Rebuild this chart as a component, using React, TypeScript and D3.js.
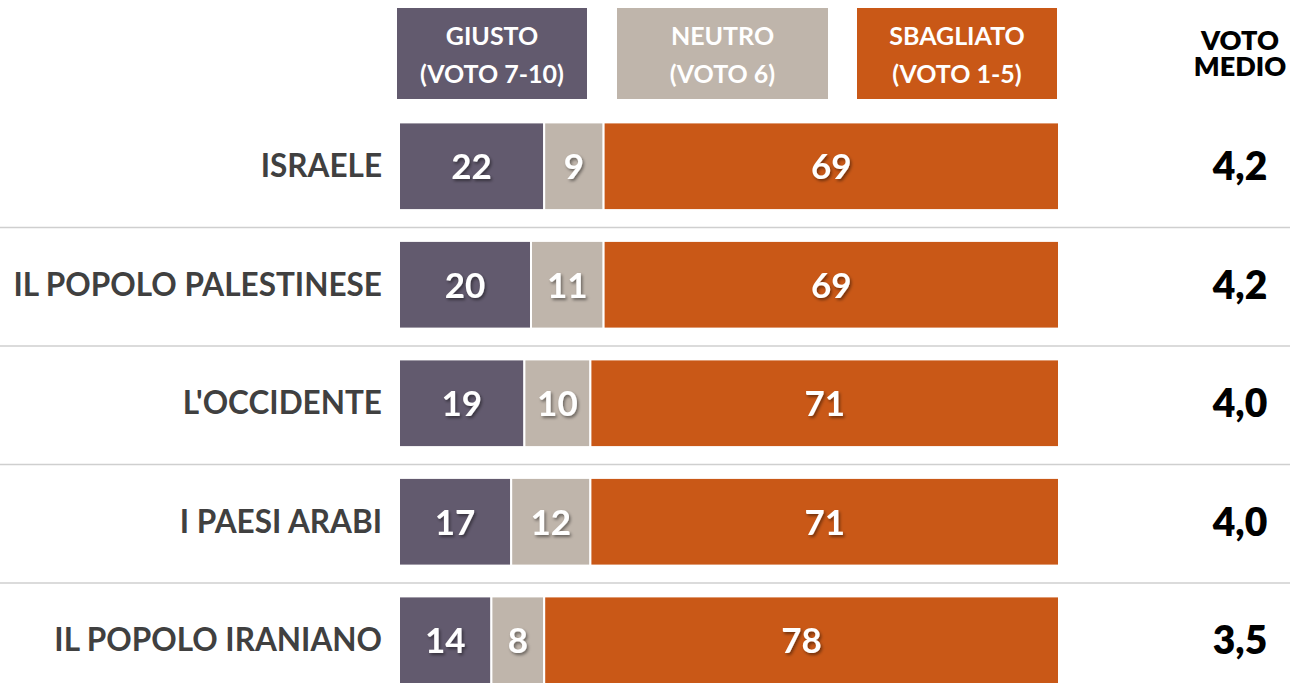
import React from "react";
import * as d3 from "d3";

const categories = ["ISRAELE", "IL POPOLO PALESTINESE", "L'OCCIDENTE", "I PAESI ARABI", "IL POPOLO IRANIANO"];
const giusto = [22, 20, 19, 17, 14];
const neutro = [9, 11, 10, 12, 8];
const sbagliato = [69, 69, 71, 71, 78];
const votoMedio = ["4,2", "4,2", "4,0", "4,0", "3,5"];
const seriesNames = [["GIUSTO", "(VOTO 7-10)"], ["NEUTRO", "(VOTO 6)"], ["SBAGLIATO", "(VOTO 1-5)"]];
const seriesColors = ["#625a6e", "#bfb5ab", "#c95817"];

const W = 1290, H = 683;
const FONT = "Lato, 'Open Sans', sans-serif";

export default function App() {
  const x = d3.scaleLinear().domain([0, 100]).range([399, 1059]);
  const y = d3.scaleBand<number>().domain(d3.range(categories.length)).range([107, 107 + 118.5 * 5]).paddingInner(0.26).paddingOuter(0.13);
  const stackData = categories.map((c, i) => ({ i, g: giusto[i], n: neutro[i], s: sbagliato[i] }));
  const stack = d3.stack<any>().keys(["g", "n", "s"])(stackData);
  const headerX = [[397, 587], [617, 828], [857, 1057]];
  return (
    <svg width={W} height={H} style={{ position: "absolute", left: 0, top: 0 }}>
      <defs>
        <filter id="sh" x="-20%" y="-20%" width="140%" height="140%">
          <feDropShadow dx="1.5" dy="2" stdDeviation="1.5" floodColor="#000" floodOpacity="0.45" />
        </filter>
      </defs>
      <rect width={W} height={H} fill="#fff" />
      {seriesNames.map((lines, k) => (
        <g key={k}>
          <rect x={headerX[k][0]} y={8} width={headerX[k][1] - headerX[k][0]} height={91} fill={seriesColors[k]} />
          {lines.map((t, j) => (
            <text key={j} x={(headerX[k][0] + headerX[k][1]) / 2} y={45 + j * 38} textAnchor="middle" fill="#fff" fontFamily={FONT} fontWeight={700} fontSize={25}>{t}</text>
          ))}
        </g>
      ))}
      <text x={1240} y={50} textAnchor="middle" fill="#000" fontFamily={FONT} fontWeight={800} fontSize={27}>VOTO</text>
      <text x={1240} y={76} textAnchor="middle" fill="#000" fontFamily={FONT} fontWeight={800} fontSize={27}>MEDIO</text>
      {categories.map((c, i) => {
        const sepY = (y(i) as number) + y.bandwidth() + (y.step() - y.bandwidth()) / 2 + 2;
        return i < categories.length - 1 ? <line key={"s" + i} x1={0} x2={W} y1={sepY} y2={sepY} stroke="#cfcfcf" strokeWidth={1.5} /> : null;
      })}
      {stack.map((layer, k) => (
        <g key={k}>
          {layer.map((d, i) => {
            const x0 = x(d[0]), x1 = x(d[1]);
            const yy = y(i) as number;
            return (
              <g key={i}>
                <rect x={x0} y={yy} width={x1 - x0} height={y.bandwidth()} fill={seriesColors[k]} stroke="#fff" strokeWidth={2} />
                <text x={(x0 + x1) / 2} y={yy + y.bandwidth() / 2 + 13} textAnchor="middle" fill="#fff" fontFamily={FONT} fontWeight={700} fontSize={35} filter="url(#sh)">{d[1] - d[0]}</text>
              </g>
            );
          })}
        </g>
      ))}
      {categories.map((c, i) => {
        const cy = (y(i) as number) + y.bandwidth() / 2;
        return (
          <g key={"l" + i}>
            <text x={382} y={cy + 11} textAnchor="end" fill="#404040" fontFamily={FONT} fontWeight={700} fontSize={31.5}>{c}</text>
            <text x={1240} y={cy + 14} textAnchor="middle" fill="#000" fontFamily={FONT} fontWeight={800} fontSize={39}>{votoMedio[i]}</text>
          </g>
        );
      })}
    </svg>
  );
}
